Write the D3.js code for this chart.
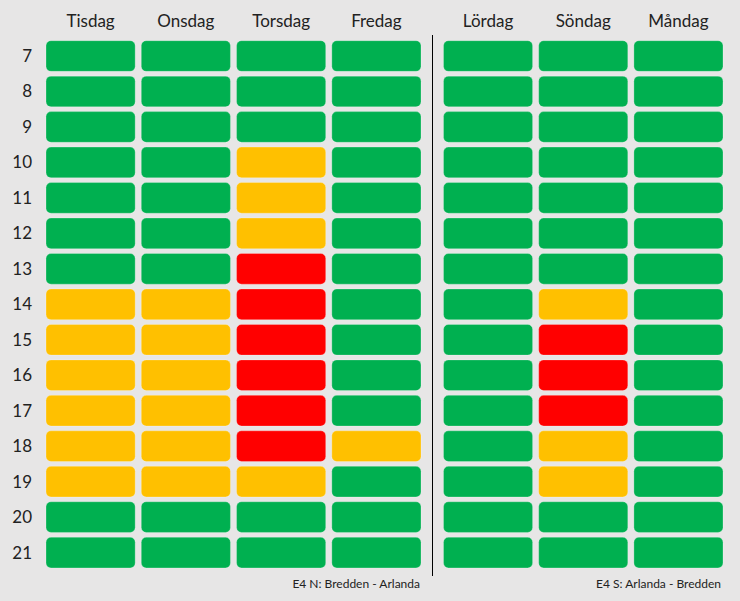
<!DOCTYPE html>
<html><head><meta charset="utf-8">
<script src="https://cdn.jsdelivr.net/npm/d3@7"></script>
<style>
html,body{margin:0;padding:0;background:#e7e6e6;}
svg{display:block;}
</style></head>
<body>
<script>
const hours = [7,8,9,10,11,12,13,14,15,16,17,18,19,20,21];
const daysLeft = ["Tisdag","Onsdag","Torsdag","Fredag"];
const daysRight = ["Lördag","Söndag","Måndag"];
// status: 0 = green, 1 = yellow, 2 = red (hours 7..21)
const tisdag  = [0,0,0,0,0,0,0,1,1,1,1,1,1,0,0];
const onsdag  = [0,0,0,0,0,0,0,1,1,1,1,1,1,0,0];
const torsdag = [0,0,0,1,1,1,2,2,2,2,2,2,1,0,0];
const fredag  = [0,0,0,0,0,0,0,0,0,0,0,1,0,0,0];
const lordag  = [0,0,0,0,0,0,0,0,0,0,0,0,0,0,0];
const sondag  = [0,0,0,0,0,0,0,1,2,2,2,1,1,0,0];
const mandag  = [0,0,0,0,0,0,0,0,0,0,0,0,0,0,0];
const footerLeft = "E4 N: Bredden - Arlanda";
const footerRight = "E4 S: Arlanda - Bredden";
const statusColors = ["#00b050","#ffc000","#ff0000"];

const seriesLeft = [tisdag, onsdag, torsdag, fredag];
const seriesRight = [lordag, sondag, mandag];

const W = 740, H = 601;
const font = "Lato, 'Open Sans', sans-serif";
const svg = d3.select("body").append("svg").attr("width", W).attr("height", H)
  .style("background", "#e7e6e6");

const color = d3.scaleOrdinal().domain([0,1,2]).range(statusColors);
const y = d3.scaleBand().domain(hours).range([38.3, 570.3]).paddingInner(0.135).paddingOuter(0.067);

function panel(days, series, x0, x1) {
  const x = d3.scaleBand().domain(days).range([x0, x1]).paddingInner(0.064).paddingOuter(0.0);
  const g = svg.append("g");
  days.forEach((d, i) => {
    g.selectAll(null).data(series[i]).enter().append("rect")
      .attr("x", x(d)).attr("y", (v, j) => y(hours[j]))
      .attr("width", x.bandwidth()).attr("height", y.bandwidth())
      .attr("rx", 5).attr("ry", 5)
      .attr("fill", v => color(v))
      .attr("stroke", "rgba(255,255,255,0.25)").attr("stroke-width", 1);
  });
  g.selectAll(null).data(days).enter().append("text")
    .attr("x", d => x(d) + x.bandwidth()/2).attr("y", 27)
    .attr("text-anchor", "middle").attr("font-family", font).attr("font-size", 17)
    .attr("fill", "#222").text(d => d);
  return x;
}
panel(daysLeft, seriesLeft, 46, 421);
panel(daysRight, seriesRight, 443.5, 723);

svg.selectAll(null).data(hours).enter().append("text")
  .attr("x", 32).attr("y", d => y(d) + y.bandwidth()/2 + 6)
  .attr("text-anchor", "end").attr("font-family", font).attr("font-size", 17)
  .attr("fill", "#222").text(d => d);

svg.append("line").attr("x1", 432.5).attr("x2", 432.5).attr("y1", 35).attr("y2", 576)
  .attr("stroke", "#000").attr("stroke-width", 1);

svg.append("text").attr("x", 420).attr("y", 588).attr("text-anchor", "end")
  .attr("font-family", font).attr("font-size", 12).attr("fill", "#222").text(footerLeft);
svg.append("text").attr("x", 721).attr("y", 588).attr("text-anchor", "end")
  .attr("font-family", font).attr("font-size", 12).attr("fill", "#222").text(footerRight);
</script>
</body></html>
